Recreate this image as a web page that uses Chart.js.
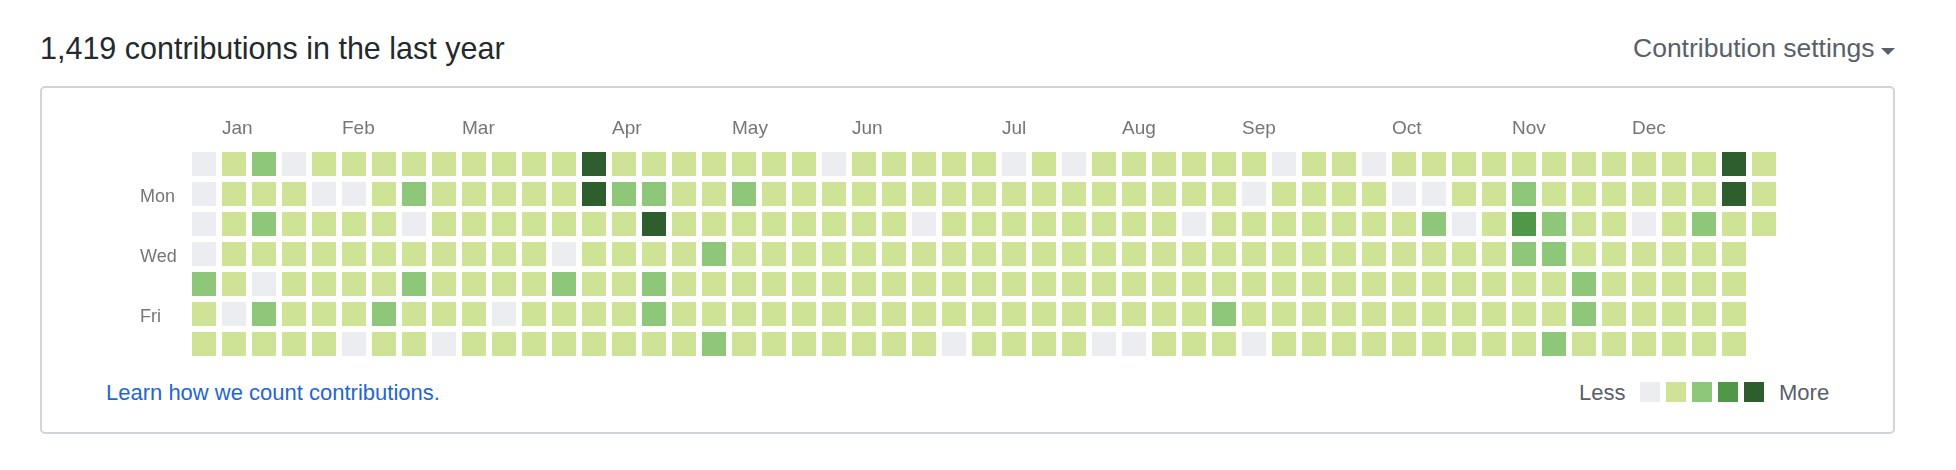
<!DOCTYPE html>
<html>
<head>
<meta charset="utf-8">
<script src="https://cdn.jsdelivr.net/npm/chart.js@4.4.1/dist/chart.umd.min.js"></script>
<style>
html,body{margin:0;padding:0;background:#fff;width:1956px;height:470px;overflow:hidden;font-family:"Liberation Sans",Arial,sans-serif;}
.abs{position:absolute;white-space:nowrap;line-height:1;}
#title{left:40px;top:33px;font-size:30.5px;color:#24292e;}
#settings{left:1633px;top:35px;font-size:26.5px;color:#586069;}
#caret{position:absolute;left:1881px;top:48px;width:0;height:0;border-left:7px solid transparent;border-right:7px solid transparent;border-top:7px solid #586069;}
#box{position:absolute;left:40px;top:86px;width:1855px;height:348px;box-sizing:border-box;border:2px solid #d1d5da;border-radius:5px;}
#learn{left:106px;top:382px;font-size:22px;color:#1f66d3;}
#less{left:1579px;top:382px;font-size:22px;color:#586069;}
#more{left:1779px;top:382px;font-size:22px;color:#586069;}
.sw{position:absolute;top:382px;width:20px;height:20px;}
#chart{position:absolute;left:0;top:0;}
</style>
</head>
<body>
<div id="box"></div>
<div class="abs" id="title">1,419 contributions in the last year</div>
<div class="abs" id="settings">Contribution settings</div>
<div id="caret"></div>
<div class="abs" id="learn">Learn how we count contributions.</div>
<div class="abs" id="less">Less</div>
<div class="abs" id="more">More</div>
<div id="legendSwatches"></div>
<canvas id="chart" width="1956" height="470"></canvas>
<script>
// ---- data (contribution level 0..4 per day, one array per weekday row, columns = weeks) ----
const monthLabels = ['Jan','Feb','Mar','Apr','May','Jun','Jul','Aug','Sep','Oct','Nov','Dec'];
const monthStartWeeks = [1,5,9,14,18,22,27,31,35,40,44,48];
const dayTickLabels = ['Mon','Wed','Fri'];
const dayTickRows = [1,3,5];
const levelColors = ['#ebedf0','#cee396','#8fc77a','#4e9848','#2e5e2e'];

const sun = [0,1,2,0,1,1,1,1,1,1, 1,1,1,4,1,1,1,1,1,1, 1,0,1,1,1,1,1,0,1,0, 1,1,1,1,1,1,0,1,1,0, 1,1,1,1,1,1,1,1,1,1, 1,4,1];
const mon = [0,1,1,1,0,0,1,2,1,1, 1,1,1,4,2,2,1,1,2,1, 1,1,1,1,1,1,1,1,1,1, 1,1,1,1,1,0,1,1,1,1, 0,0,1,1,2,1,1,1,1,1, 1,4,1];
const tue = [0,1,2,1,1,1,1,0,1,1, 1,1,1,1,1,4,1,1,1,1, 1,1,1,1,0,1,1,1,1,1, 1,1,1,0,1,1,1,1,1,1, 1,2,0,1,3,2,1,1,0,1, 2,1,1];
const wed = [0,1,1,1,1,1,1,1,1,1, 1,1,0,1,1,1,1,2,1,1, 1,1,1,1,1,1,1,1,1,1, 1,1,1,1,1,1,1,1,1,1, 1,1,1,1,2,2,1,1,1,1, 1,1];
const thu = [2,1,0,1,1,1,1,2,1,1, 1,1,2,1,1,2,1,1,1,1, 1,1,1,1,1,1,1,1,1,1, 1,1,1,1,1,1,1,1,1,1, 1,1,1,1,1,1,2,1,1,1, 1,1];
const fri = [1,0,2,1,1,1,2,1,1,1, 0,1,1,1,1,2,1,1,1,1, 1,1,1,1,1,1,1,1,1,1, 1,1,1,1,2,1,1,1,1,1, 1,1,1,1,1,1,2,1,1,1, 1,1];
const sat = [1,1,1,1,1,0,1,1,0,1, 1,1,1,1,1,1,1,2,1,1, 1,1,1,1,1,0,1,1,1,1, 0,0,1,1,1,0,1,1,1,1, 1,1,1,1,1,2,1,1,1,1, 1,1];

const dayRows = [sun, mon, tue, wed, thu, fri, sat];

// build points
const points = [];
dayRows.forEach((row, d) => {
  row.forEach((lvl, w) => points.push({x: w, y: d, v: lvl}));
});

// legend swatches (HTML)
const sw = document.getElementById('legendSwatches');
levelColors.forEach((c, i) => {
  const el = document.createElement('div');
  el.className = 'sw';
  el.style.left = (1640 + 26 * i) + 'px';
  el.style.background = c;
  sw.appendChild(el);
});

const FONT = '"Liberation Sans", Arial, sans-serif';

new Chart(document.getElementById('chart'), {
  type: 'scatter',
  data: {
    datasets: [{
      data: points,
      pointStyle: 'rect',
      pointRadius: 24 / Math.SQRT2,
      pointHoverRadius: 24 / Math.SQRT2,
      borderWidth: 0,
      pointBorderWidth: 0,
      backgroundColor: ctx => levelColors[ctx.raw ? ctx.raw.v : 0],
      pointBackgroundColor: ctx => levelColors[ctx.raw ? ctx.raw.v : 0]
    }]
  },
  options: {
    responsive: false,
    maintainAspectRatio: false,
    devicePixelRatio: 1,
    animation: false,
    events: [],
    layout: { padding: { left: 140, right: 177, top: 109, bottom: 111 } },
    plugins: { legend: { display: false }, tooltip: { enabled: false } },
    scales: {
      x: {
        type: 'linear',
        position: 'top',
        bounds: 'data',
        min: -0.5,
        max: 52.5,
        grid: { display: false, drawTicks: false },
        border: { display: false },
        afterBuildTicks: s => { s.ticks = monthStartWeeks.map(w => ({ value: w - 0.4 })); },
        afterFit: s => { s.height = 40; },
        ticks: {
          autoSkip: false,
          maxRotation: 0,
          minRotation: 0,
          align: 'start',
          padding: 9,
          color: '#767676',
          font: { family: FONT, size: 19 },
          callback: (v, i) => monthLabels[i]
        }
      },
      y: {
        type: 'linear',
        position: 'left',
        reverse: true,
        bounds: 'data',
        min: -0.5,
        max: 6.5,
        grid: { display: false, drawTicks: false },
        border: { display: false },
        afterBuildTicks: s => { s.ticks = dayTickRows.map(r => ({ value: r })); },
        afterFit: s => { s.width = 49; },
        ticks: {
          autoSkip: false,
          crossAlign: 'far',
          padding: 0,
          labelOffset: 3.5,
          color: '#767676',
          font: { family: FONT, size: 18 },
          callback: (v, i) => dayTickLabels[i]
        }
      }
    }
  }
});
</script>
</body>
</html>
